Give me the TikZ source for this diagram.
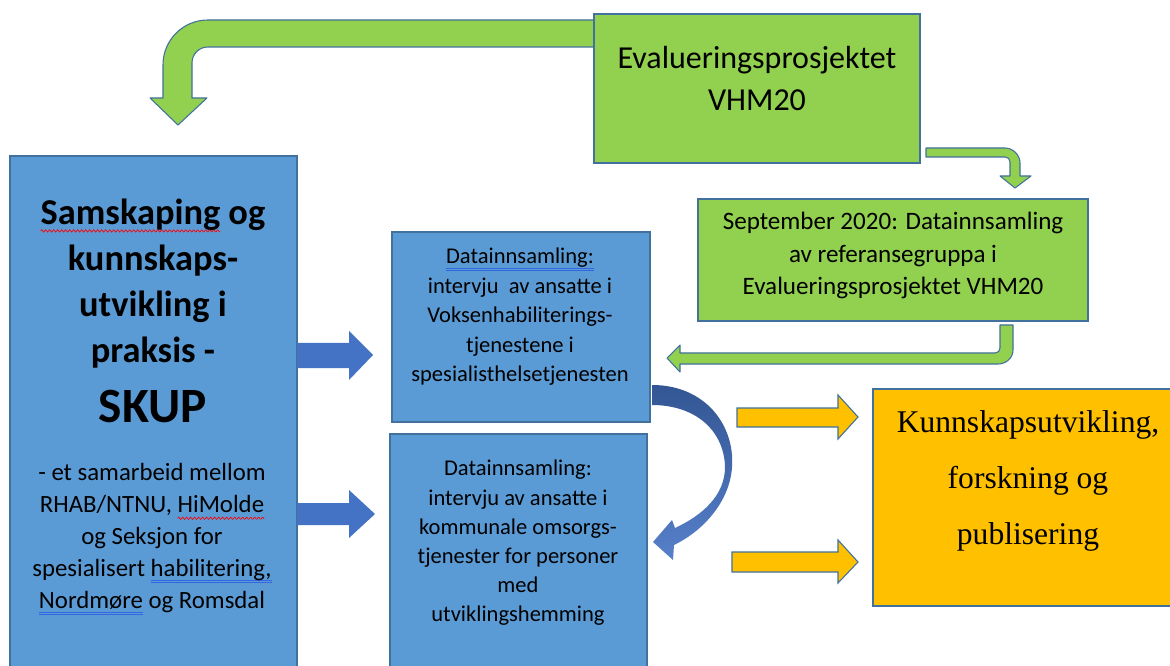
\documentclass[tikz,border=0pt]{standalone}
\usepackage{fontspec}
\setmainfont{Carlito}
\newfontfamily\timesfont{Liberation Serif}
\definecolor{gfill}{HTML}{92D050}
\definecolor{bfill}{HTML}{5B9BD5}
\definecolor{yfill}{HTML}{FFC000}
\definecolor{edgec}{HTML}{41719C}
\definecolor{barrow}{HTML}{4472C4}
\definecolor{uublue}{HTML}{3366E0}
\newsavebox\wordbox
\newdimen\uwd
\newcommand\redwave[1]{\sbox\wordbox{#1}\uwd=\wd\wordbox
  \pgfmathsetmacro\uw{\uwd}\pgfmathtruncatemacro\ns{\uwd/0.75+2}%
  \rlap{\usebox\wordbox}\tikz[baseline=0pt,x=1pt,y=1pt]{\useasboundingbox (0,0) rectangle (\uw,0);
  \draw[red,line width=0.5pt] plot[domain=0:\uw, samples=\ns] (\x,{-4.5+0.9*sin(\x*120)});}}
\newcommand\blueuu[1]{\sbox\wordbox{#1}\uwd=\wd\wordbox
  \rlap{\textcolor{uublue}{\rule[-3.5pt]{\uwd}{0.5pt}}}\rlap{\textcolor{uublue}{\rule[-5pt]{\uwd}{0.5pt}}}\usebox\wordbox}
\tikzset{
  boxg/.style={draw=edgec, line width=1pt, fill=gfill, inner sep=0pt},
  boxb/.style={draw=edgec, line width=1pt, fill=bfill, inner sep=0pt},
  boxy/.style={draw=edgec, line width=1pt, fill=yfill, inner sep=0pt},
  garrow/.style={fill=gfill, draw=edgec, line width=0.8pt, line join=round},
  yarrow/.style={fill=yfill, draw=edgec, line width=0.8pt},
  barrowst/.style={fill=barrow},
  txt/.style={align=center, inner sep=0pt, text=black}
}
\begin{document}
\begin{tikzpicture}[x=0.75pt, y=-0.75pt]
\useasboundingbox (0,0) rectangle (1170,666);
\clip (0,0) rectangle (1170,666);
\fill[white] (0,0) rectangle (1170,666);

% big green bent arrow (top)
\path[garrow] (600,20) -- (208,20) .. controls (183,20) and (163,40) .. (163,65)
  -- (163,98) -- (150,98) -- (178,125) -- (207,98) -- (192,98) -- (192,63)
  .. controls (192,54) and (199,47) .. (208,47) -- (600,47) -- cycle;

% boxes
\node[boxg, minimum width={326*0.75pt}, minimum height={149*0.75pt}] (topg) at (757,88.5) {};
\node[boxg, minimum width={390*0.75pt}, minimum height={122*0.75pt}] (sept) at (893,260) {};
\node[boxb, minimum width={287*0.75pt}, minimum height={516*0.75pt}] (skup) at (153.5,414) {};
\node[boxb, minimum width={258*0.75pt}, minimum height={190*0.75pt}] (d1) at (521,327) {};
\node[boxb, minimum width={257*0.75pt}, minimum height={238*0.75pt}] (d2) at (518.5,553) {};
\node[boxy, minimum width={307*0.75pt}, minimum height={217*0.75pt}] (kunn) at (1026.5,497.5) {};

% small green arrow: top box -> September box
\path[garrow] (926,148) -- (1005,148) .. controls (1013,148) and (1020,155) .. (1020,163)
  -- (1020,176) -- (1031,176) -- (1015,188) -- (1000,176) -- (1010,176) -- (1010,162)
  .. controls (1010,159) and (1008,157) .. (1005,157) -- (926,157) -- cycle;

% green arrow: September box -> first data box
\path[garrow] (1000,325) -- (1013,325) -- (1013,350) .. controls (1013,358) and (1006,364) .. (998,364)
  -- (680,364) -- (680,372) -- (667,358) -- (680,345) -- (680,353) -- (995,353)
  .. controls (998,353) and (1000,351) .. (1000,348) -- cycle;

% blue block arrows from SKUP
\path[barrowst] (297,343) -- (349,343) -- (349,331) -- (373,355) -- (349,380) -- (349,368) -- (297,368) -- cycle;
\path[barrowst] (297,503) -- (349,503) -- (349,490) -- (375,514) -- (349,538) -- (349,525) -- (297,525) -- cycle;

% curved blue arrow between data boxes
\shade[top color=barrow!75!black, bottom color=barrow!90!white]
  (652,385) .. controls (705,385) and (735,425) .. (732,467)
  .. controls (730,500) and (705,530) .. (674,545) -- (673,560) -- (653,542) -- (672,520) -- (675,528)
  .. controls (703,515) and (725,495) .. (725,467)
  .. controls (724,430) and (695,405) .. (652,405) -- cycle;

% yellow arrows
\path[yarrow] (737,408) -- (838,408) -- (838,395) -- (858,417) -- (838,439) -- (838,427) -- (737,427) -- cycle;
\path[yarrow] (732,552) -- (838,552) -- (838,540) -- (858,562) -- (838,583) -- (838,572) -- (732,572) -- cycle;

% texts
\node[txt, font=\fontsize{24}{31.5}\selectfont] (ttop) at (757,79) {Evalueringsprosjektet\\VHM20};
\node[txt, font=\fontsize{18.8}{24.4}\selectfont] (tsept) at (893,255.5)
  {September 2020: Datainnsamling\\av referansegruppa i\\Evalueringsprosjektet VHM20};
\node[txt, font=\fontsize{16.9}{22.1}\selectfont] (td1) at (520,317)
  {\blueuu{Datainnsamling:}\\intervju\ \ av ansatte i\\Voksenhabiliterings-\\tjenestene i\\spesialisthelsetjenesten};
\node[txt, font=\fontsize{16.9}{21.9}\selectfont] (td2) at (518,543)
  {Datainnsamling:\\intervju av ansatte i\\kommunale omsorgs-\\tjenester for personer\\med\\utviklingshemming};
\node[txt, font=\bfseries\fontsize{27.3}{34.5}\selectfont] (tskup1) at (153,284)
  {\redwave{Samskaping} og\\kunnskaps-\\utvikling i\\praksis -};
\node[txt, font=\bfseries\fontsize{37}{40}\selectfont] (tskup2) at (153,407) {SKUP};
\node[txt, font=\fontsize{18.6}{24}\selectfont] (tskup3) at (152,539)
  {- et samarbeid mellom\\RHAB/NTNU, \redwave{HiMolde}\\og Seksjon for\\spesialisert \blueuu{habilitering,}\\\blueuu{Nordmøre} og Romsdal};
\node[txt, font=\timesfont\fontsize{23.7}{42}\selectfont] (tkunn) at (1028,481)
  {Kunnskapsutvikling,\\forskning og\\publisering};
\end{tikzpicture}
\end{document}
